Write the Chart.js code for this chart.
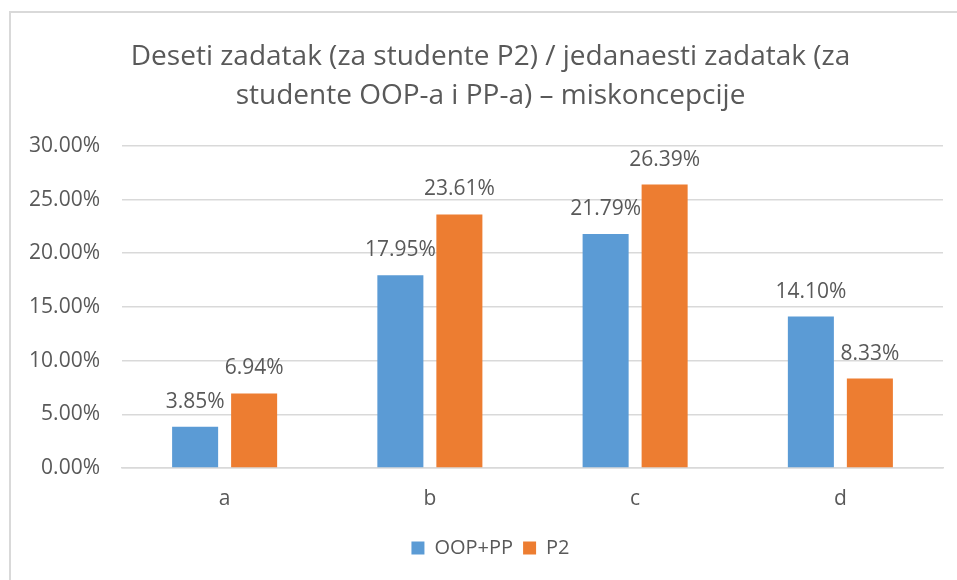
<!DOCTYPE html>
<html>
<head>
<meta charset="utf-8">
<script src="https://cdn.jsdelivr.net/npm/chart.js@4"></script>
<style>
  body { margin: 0; background: #fff; }
  #wrap { position: relative; width: 957px; height: 580px; overflow: hidden; }
  #frame { position: absolute; left: 9px; top: 11px; width: 1000px; height: 700px;
           border-left: 2px solid #d9d9d9; border-top: 2px solid #d9d9d9; }
  canvas { position: absolute; left: 0; top: 0; }
</style>
</head>
<body>
<div id="wrap">
  <div id="frame"></div>
  <canvas id="chart" width="957" height="580"></canvas>
</div>
<script>
const categories = ['a', 'b', 'c', 'd']
const oopPP = [3.85, 17.95, 21.79, 14.10]
const p2 = [6.94, 23.61, 26.39, 8.33]
const titleLines = ['Deseti zadatak (za studente P2) / jedanaesti zadatak (za', 'studente OOP-a i PP-a) – miskoncepcije']

const grey = '#595959'
const font = "'Open Sans', 'Liberation Sans', sans-serif"

// value labels above each bar, like Excel data labels
const barLabels = {
    id: 'barLabels',
    afterDatasetsDraw(chart) {
        const ctx = chart.ctx
        ctx.save()
        ctx.font = `21px ${font}`
        ctx.fillStyle = grey
        ctx.textAlign = 'center'
        ctx.textBaseline = 'middle'
        chart.data.datasets.forEach((ds, i) => {
            chart.getDatasetMeta(i).data.forEach((bar, j) => {
                ctx.fillText(ds.data[j].toFixed(2) + '%', bar.x, bar.y - 25)
            })
        })
        ctx.restore()
    }
}

// let the y tick labels run into the left padding instead of being clipped
const yLabelRoom = {
    id: 'yLabelRoom',
    afterLayout(chart) {
        chart.scales.y.left = 0
    }
}

Chart.defaults.font.family = font
Chart.defaults.color = grey

new Chart(document.getElementById('chart'), {
    type: 'bar',
    data: {
        labels: categories,
        datasets: [
            { label: 'OOP+PP', data: oopPP, backgroundColor: '#5b9bd5' },
            { label: 'P2', data: p2, backgroundColor: '#ed7d31' }
        ]
    },
    options: {
        responsive: false,
        animation: false,
        categoryPercentage: 0.575,
        barPercentage: 0.78,
        // left padding pushes the title/legend centre to the frame's centre
        layout: { padding: { left: 38, right: 14, top: 0, bottom: 12 } },
        plugins: {
            title: {
                display: true,
                text: titleLines,
                color: grey,
                font: { size: 28, weight: 'normal', lineHeight: 1.39 },
                padding: { top: 38, bottom: 30 }
            },
            legend: {
                position: 'bottom',
                labels: { boxWidth: 13, boxHeight: 13, font: { size: 20 }, color: grey, padding: 10 }
            },
            tooltip: { enabled: false }
        },
        scales: {
            x: {
                grid: { display: false, drawTicks: false },
                border: { display: true, color: '#d9d9d9', width: 1.5 },
                ticks: { font: { size: 21 }, color: grey, padding: 18 },
                afterFit: s => { s.height = 60 }
            },
            y: {
                min: 0,
                max: 30,
                ticks: {
                    stepSize: 5,
                    font: { size: 21 },
                    color: grey,
                    padding: 22,
                    callback: v => v.toFixed(2) + '%'
                },
                grid: { color: '#d9d9d9', lineWidth: 1.5, drawTicks: false },
                border: { display: false },
                afterFit: s => { s.width = 84 }
            }
        }
    },
    plugins: [barLabels, yLabelRoom]
})
</script>
</body>
</html>
